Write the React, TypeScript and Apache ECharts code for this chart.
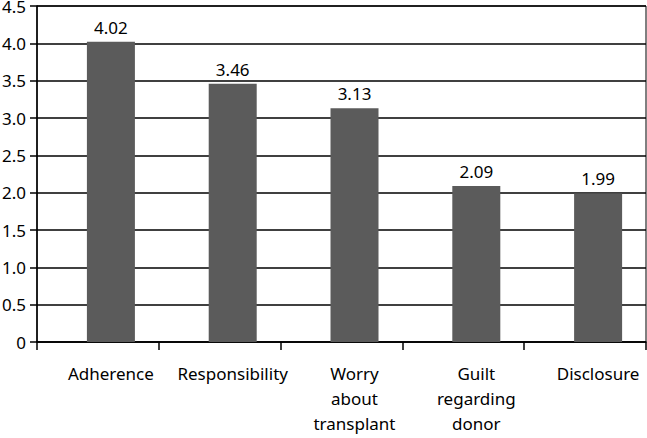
import React, { useEffect, useRef } from "react";
import * as echarts from "echarts";

const categories = ["Adherence", "Responsibility", "Worry\nabout\ntransplant", "Guilt\nregarding\ndonor", "Disclosure"];
const values = [4.02, 3.46, 3.13, 2.09, 1.99];
const yTicks = { min: 0, max: 4.5, interval: 0.5 };

export default function App() {
  const ref = useRef<HTMLDivElement>(null);
  useEffect(() => {
    const chart = echarts.init(ref.current!, null, { renderer: "svg" });
    const font = "'Noto Sans', sans-serif";
    chart.setOption({
      animation: false,
      grid: {
        left: 37, right: 1, top: 6, bottom: 96,
        outerBoundsMode: "none",
        containLabel: false,
        show: true, borderColor: "#000", borderWidth: 1, backgroundColor: "transparent",
      },
      xAxis: {
        type: "category",
        data: categories,
        axisLine: { lineStyle: { color: "#000", width: 1.5 } },
        axisTick: { show: true, length: 8, lineStyle: { color: "#000", width: 1.5 } },
        axisLabel: {
          color: "#000",
          fontFamily: font,
          fontSize: 17,
          lineHeight: 25,
          margin: 19,
          interval: 0,
          padding: [0, 0, 0, 26],
        },
      },
      yAxis: {
        type: "value",
        min: yTicks.min,
        max: yTicks.max,
        interval: yTicks.interval,
        axisLine: { show: true, lineStyle: { color: "#000", width: 1.5 } },
        axisTick: { show: true, length: 7, lineStyle: { color: "#000", width: 1.5 } },
        splitLine: { lineStyle: { color: "#000", width: 1.5 } },
        axisLabel: {
          color: "#000",
          fontFamily: font,
          fontSize: 17,
          margin: 11,
          formatter: (v: number) => (v === 0 ? "0" : v.toFixed(1)),
        },
      },
      series: [
        { type: "bar", data: [], barWidth: 48, barGap: "-45.8%" },
        {
          type: "bar",
          data: values,
          barWidth: 48,
          itemStyle: { color: "#5b5b5b" },
          label: {
            show: true,
            position: "top",
            distance: 6,
            color: "#000",
            fontFamily: font,
            fontSize: 17,
            formatter: (p: any) => p.value.toFixed(2),
          },
        },
      ],
    });
    return () => chart.dispose();
  }, []);
  return <div ref={ref} style={{ width: 647, height: 438, position: "absolute", left: 0, top: 0 }} />;
}
